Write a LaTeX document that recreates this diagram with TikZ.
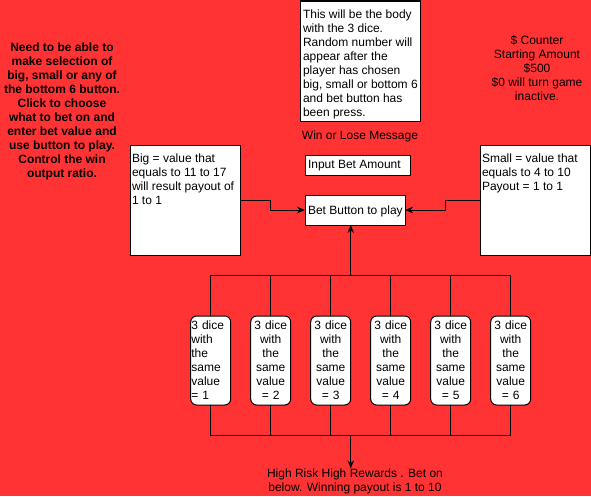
\documentclass[tikz,border=0pt]{standalone}
\usepackage{fontspec}
\setmainfont{Liberation Sans}
\usetikzlibrary{arrows.meta}
\definecolor{bgred}{HTML}{FF3333}
\begin{document}
\begin{tikzpicture}[x=0.75pt,y=-0.75pt,
  font=\fontsize{9}{10.5}\selectfont,
  every node/.style={inner sep=0pt,outer sep=0pt},
  box/.style={draw=black,fill=white,line width=0.75pt},
  dicebox/.style={box,rounded corners=4.5pt,minimum width=30pt,minimum height=66.75pt,text width=29pt,align=center},
  txt/.style={align=center},
  conn/.style={line width=0.75pt,draw=black},
  arr/.style={conn,-{Stealth[length=6pt,width=5pt]}}]
\fill[bgred] (0,0) rectangle (591,496);
\useasboundingbox (0,0) rectangle (591,496);

% left description
\node[txt,font=\fontsize{9}{10.55}\selectfont\bfseries] (desc) at (62,111.5) {Need to be able to\\make selection of\\big, small or any of\\the bottom 6 button.\\Click to choose\\what to bet on and\\enter bet value and\\use button to play.\\Control the win\\output ratio.};

% counter text
\node[txt] (counter) at (537,68.5) {\$ Counter\\Starting Amount\\\$500\\\$0 will turn game\\inactive.};

% body box
\node[box,anchor=north west,minimum width=90pt,minimum height=90pt] (body) at (300,1) {};
\node[anchor=north west,align=left] (bodytxt) at (303,9.5) {This will be the body\\with the 3 dice.\\Random number will\\appear after the\\player has chosen\\big, small or bottom 6\\and bet button has\\been press.};

\node (msg) at (360,136) {Win or Lose Message};

\node[box,anchor=north west,minimum width=78.75pt,minimum height=15pt] (input) at (305,155) {};
\node[anchor=west] (inputtxt) at (308,166) {Input Bet Amount};

\node[box,anchor=north west,minimum width=75pt,minimum height=22.5pt] (bet) at (305,195) {};
\node[anchor=west] (bettxt) at (308,211) {Bet Button to play};

% big and small
\node[box,anchor=north west,minimum width=82.5pt,minimum height=82.5pt] (big) at (130,145) {};
\node[anchor=north west,align=left] (bigtxt) at (132,153.5) {Big = value that\\equals to 11 to 17\\will result payout of\\1 to 1};

\node[box,anchor=north west,minimum width=82.5pt,minimum height=82.5pt] (small) at (480,145) {};
\node[anchor=north west,align=left] (smalltxt) at (482,153.5) {Small = value that\\equals to 4 to 10\\Payout = 1 to 1};

\draw[arr] (big.east) -- ++(30,0) |- (bet.west);
\draw[arr] (small.west) -- ++(-35,0) |- (bet.east);

% dice
\node[dicebox,align=left] (d1) at (210.7,360.5) {3 dice\\with\\the\\same\\value\\= 1};
\node[dicebox] (d2) at (270.7,360.5) {3 dice\\with\\the\\same\\value\\= 2};
\node[dicebox] (d3) at (330.7,360.5) {3 dice\\with\\the\\same\\value\\= 3};
\node[dicebox] (d4) at (390.7,360.5) {3 dice\\with\\the\\same\\value\\= 4};
\node[dicebox] (d5) at (450.7,360.5) {3 dice\\with\\the\\same\\value\\= 5};
\node[dicebox] (d6) at (510.7,360.5) {3 dice\\with\\the\\same\\value\\= 6};

\coordinate (topbus) at (350.7,275);
\coordinate (botbus) at (350.7,435);

\draw[conn] (d1.north) -- (d1.north |- topbus) -- (d6.north |- topbus) -- (d6.north);
\draw[conn] (d1.south) -- (d1.south |- botbus) -- (d6.south |- botbus) -- (d6.south);
\foreach \d in {d2,d3,d4,d5}{
  \draw[conn] (\d.north) -- (\d.north |- topbus);
  \draw[conn] (\d.south) -- (\d.south |- botbus);
}
\draw[arr] (topbus) -- (topbus |- bet.south);

\node[txt] (risk) at (355,481) {High Risk High Rewards . Bet on\\below. Winning payout is 1 to 10};
\draw[arr] (botbus) -- (risk.north -| botbus);
\end{tikzpicture}
\end{document}
